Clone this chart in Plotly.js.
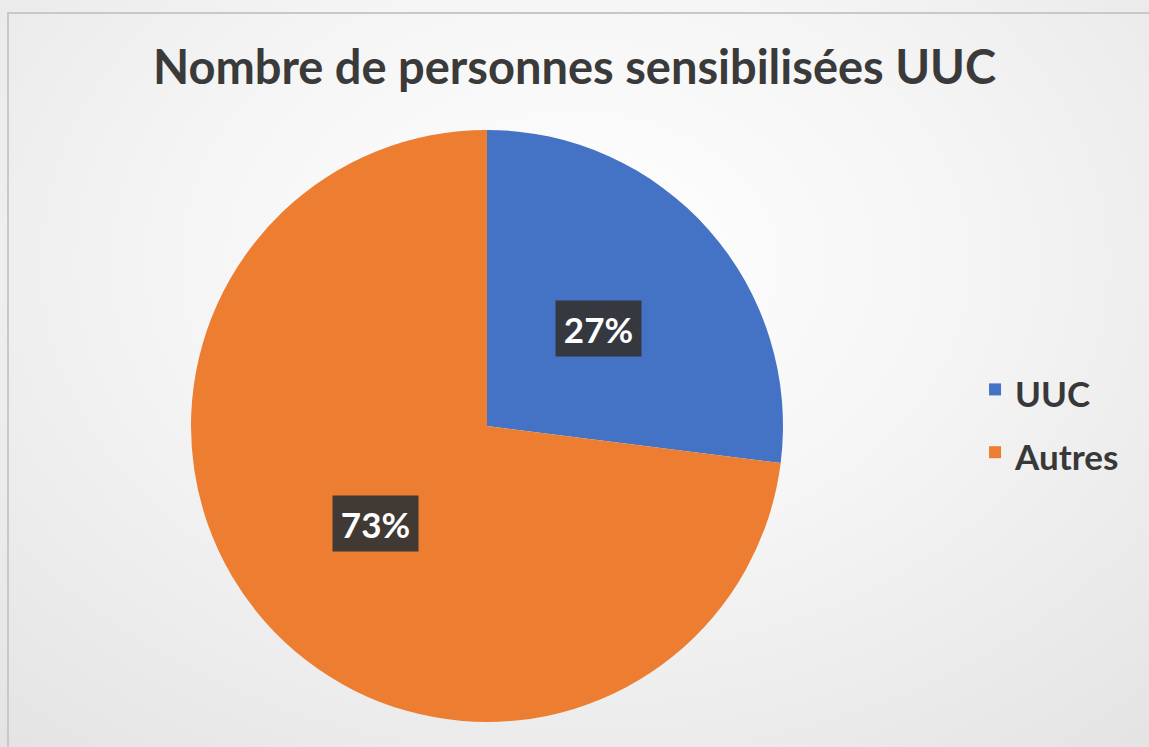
<!DOCTYPE html>
<html>
<head>
<meta charset="utf-8">
<script src="https://cdn.plot.ly/plotly-3.0.1.min.js"></script>
<style>
  html, body { margin: 0; padding: 0; width: 1149px; height: 747px; overflow: hidden; }
  body { background: radial-gradient(ellipse 75% 85% at 50% 35%, #ffffff 0%, #f5f5f5 45%, #e4e4e4 100%); }
  #frame { position: absolute; left: 7px; top: 12px; width: 1160px; height: 760px; border-left: 2px solid #c8c8c8; border-top: 2px solid #c8c8c8; box-sizing: border-box; }
  #chart { position: absolute; left: 0; top: 0; width: 1149px; height: 747px; }
</style>
</head>
<body>
<div id="frame"></div>
<div id="chart"></div>
<script>
const categories = ["UUC", "Autres"];
const values = [27, 73];
const colors = ["#4472C4", "#ED7D31"];
const chartTitle = "Nombre de personnes sensibilisées UUC";

const W = 1149, H = 747;
const domX = [0.1662, 0.6815];
const domY = [0.0335, 0.826];
const FONT = "Lato, 'Open Sans', sans-serif";

// label positions derived from the data (mid-angle of each slice, half radius)
const total = values.reduce((a, b) => a + b, 0);
const cxPx = (domX[0] + domX[1]) / 2 * W;
const cyPx = (domY[0] + domY[1]) / 2 * H;
const rPx = Math.min((domX[1] - domX[0]) * W, (domY[1] - domY[0]) * H) / 2;
let cum = 0;
const annotations = values.map((v, i) => {
  const mid = (cum + v / 2) / total * 2 * Math.PI;
  cum += v;
  const px = cxPx + 0.5 * rPx * Math.sin(mid);
  const py = cyPx + 0.5 * rPx * Math.cos(mid);
  return {
    x: px / W, y: py / H, xref: "paper", yref: "paper",
    text: "<b>" + Math.round(v / total * 100) + "%</b>",
    showarrow: false,
    font: { family: FONT, size: 35, color: "#ffffff" },
    bgcolor: "rgba(52,52,52,0.93)",
    width: 71, height: 41,
    borderpad: 7,
    xanchor: "center", yanchor: "middle"
  };
});

const data = [{
  type: "pie",
  labels: categories.map(c => '<span style="font-size:35px">' + c + '</span>'),
  values: values,
  marker: { colors: colors, line: { color: "#ffffff", width: 0 } },
  sort: false,
  direction: "clockwise",
  rotation: 0,
  textinfo: "none",
  hoverinfo: "label+percent",
  domain: { x: domX, y: domY }
}];

const layout = {
  width: W, height: H,
  margin: { l: 0, r: 0, t: 0, b: 0 },
  paper_bgcolor: "rgba(0,0,0,0)",
  plot_bgcolor: "rgba(0,0,0,0)",
  title: {
    text: "<b>" + chartTitle + "</b>",
    font: { family: FONT, size: 47, color: "#3a3a3a" },
    x: 0.5, xanchor: "center", y: 0.909, yanchor: "middle", xref: "paper", yref: "paper"
  },
  showlegend: true,
  legend: {
    x: 0.8486, xanchor: "left", y: 0.4364, yanchor: "middle",
    font: { family: FONT, size: 46, color: "#383838", weight: "bold" },
    bgcolor: "rgba(0,0,0,0)"
  },
  annotations: annotations
};

Plotly.newPlot("chart", data, layout, { displayModeBar: false, staticPlot: true });
</script>
</body>
</html>
